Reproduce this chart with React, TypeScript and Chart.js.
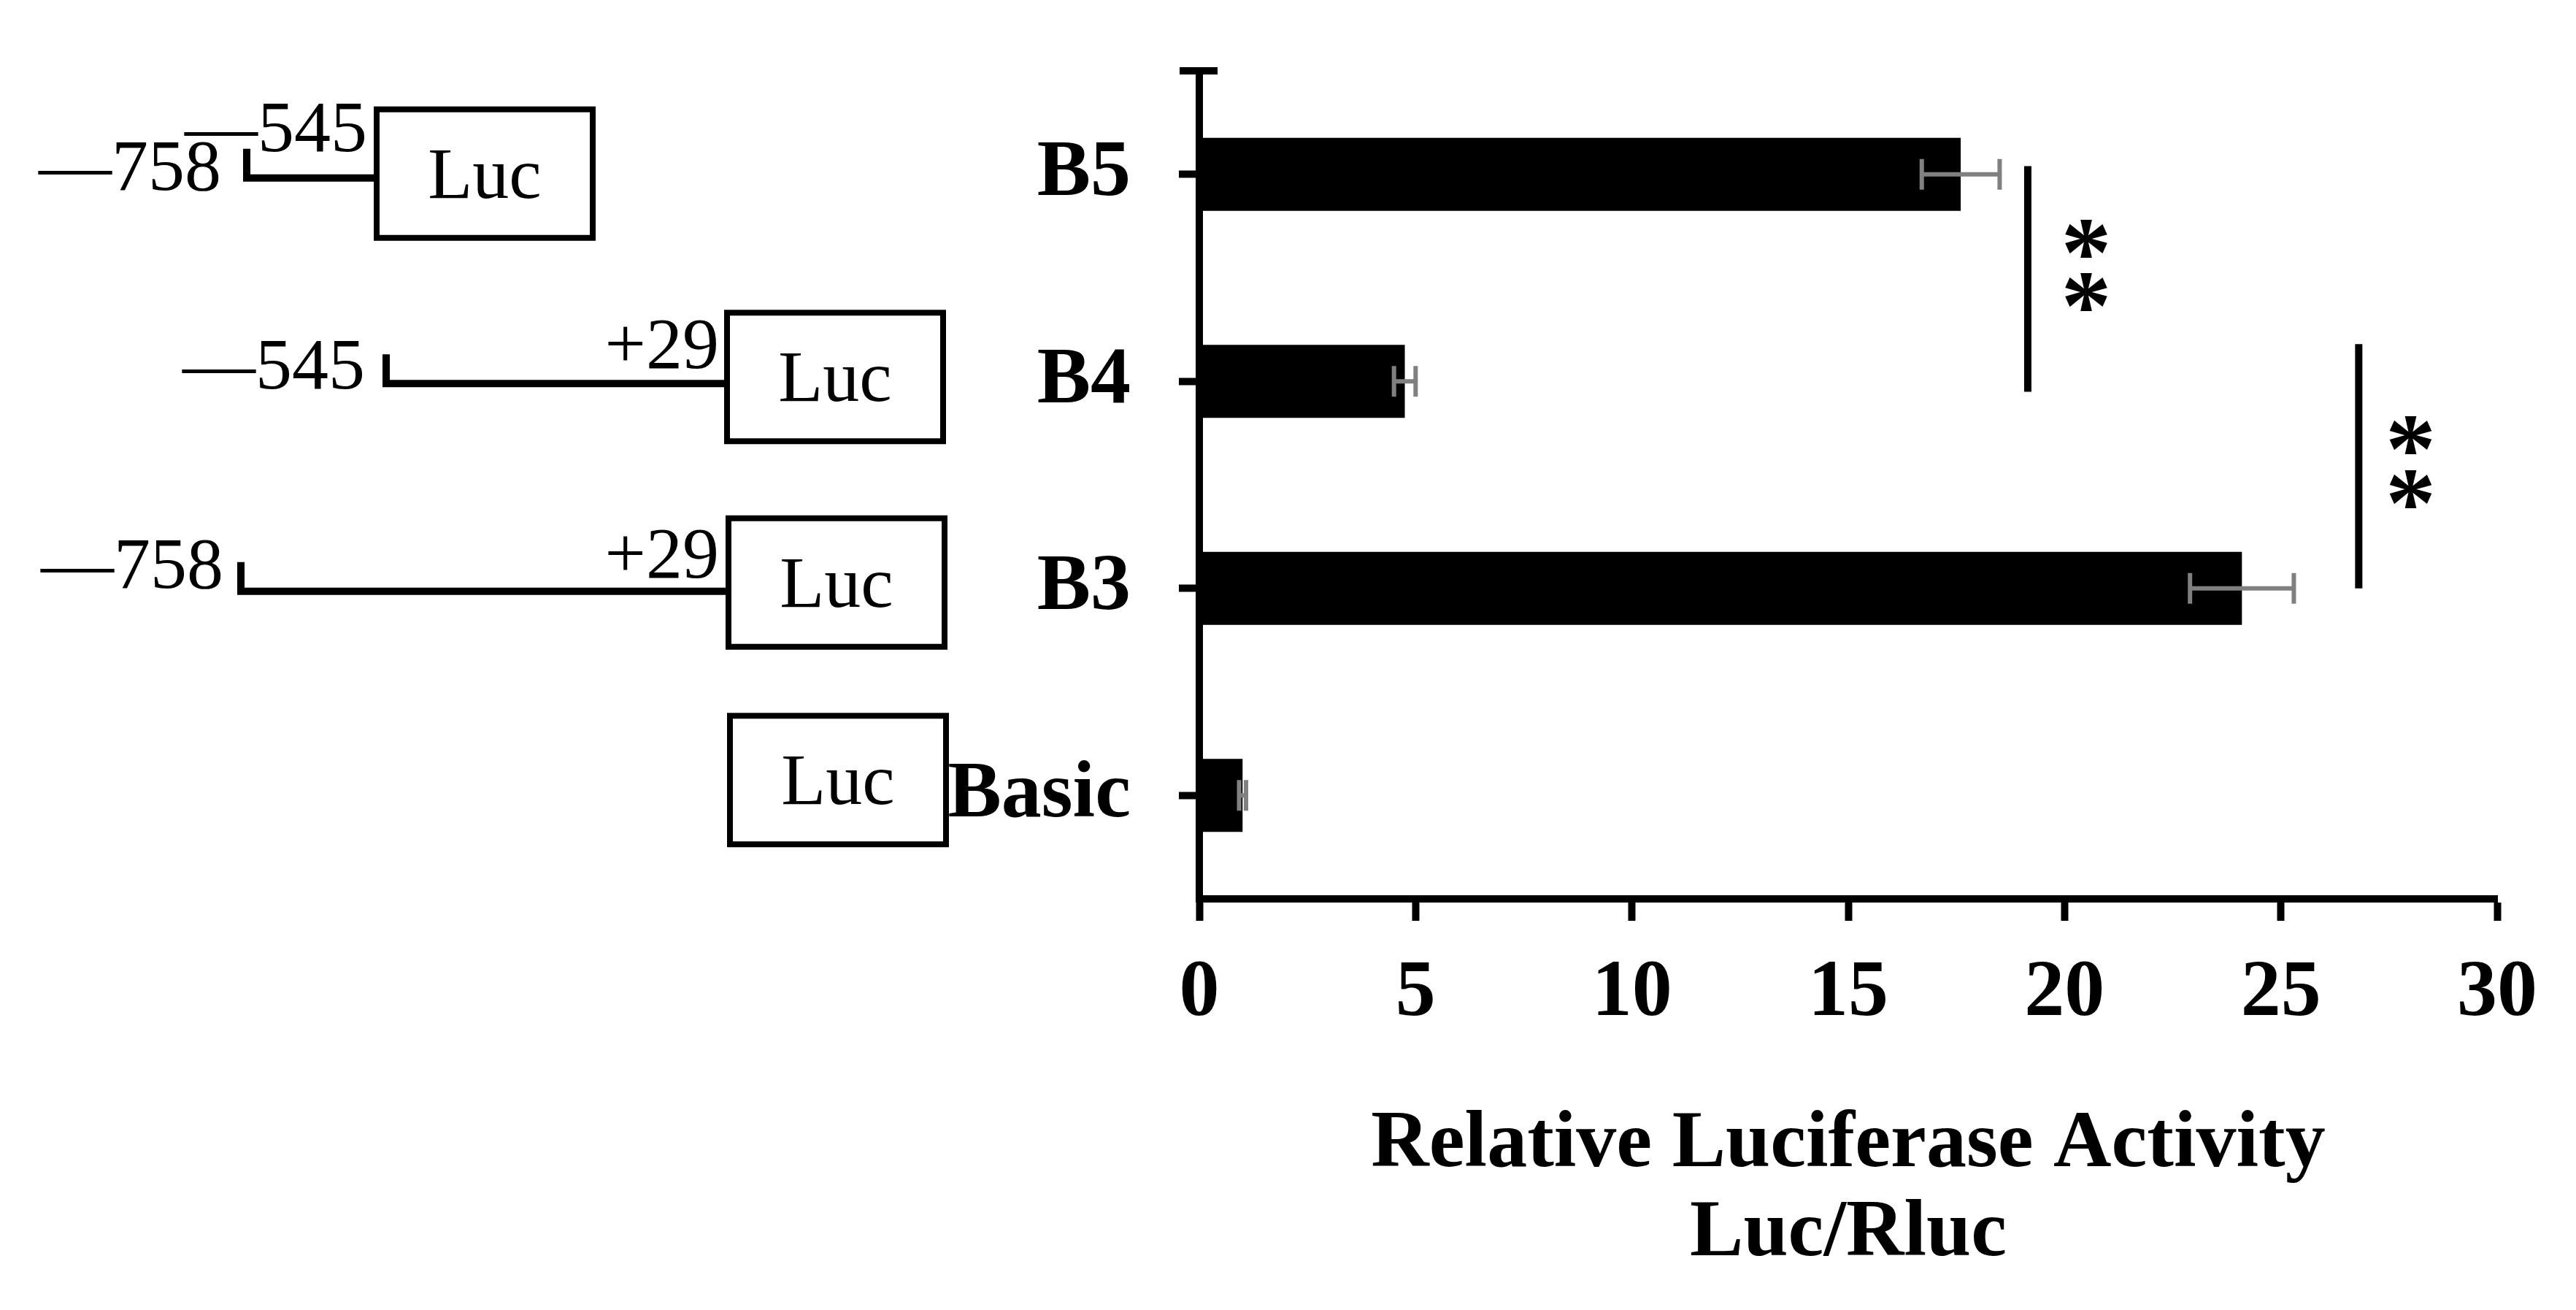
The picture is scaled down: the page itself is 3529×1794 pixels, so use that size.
import React, { useEffect, useRef } from 'react';
import { Chart, registerables } from 'chart.js';

Chart.register(...registerables);

// ---------- data ----------
const categories = ['B5', 'B4', 'B3', 'Basic'];
const relativeActivity = [17.6, 4.75, 24.1, 1.0];
const activityError = [0.9, 0.25, 1.2, 0.08];
const xMin = 0;
const xMax = 30;
const xStep = 5;
const axisTitle = ['Relative Luciferase Activity', 'Luc/Rluc'];

// significance brackets (x in activity units, y in category positions)
const sigX = [19.15, 26.8];
const sigFrom = [-0.04, 0.82];
const sigTo = [1.05, 2.0];
const sigMarkX = [20.5, 28.0];
const sigMarkY = [
  [0.31, 0.57],
  [1.26, 1.52],
];
const sigMark = '*';

// promoter constructs (schematic labels)
const constructStart = ['—758', '—545', '—758', ''];
const constructInner = ['—545', '', '', ''];
const constructEnd = ['', '+29', '+29', ''];
const reporter = 'Luc';

// ---------- styles / layout ----------
const FONT = "'Liberation Serif', 'Times New Roman', serif";
const W = 3529;
const H = 1794;
const BOX_W = 296;
const BOX_H = 176;
const ROWS = [
  { boxX: 516, dy: -1, lineX: 338, lineDy: 6, startRight: 303, startBase: 16, innerRight: 503, innerBase: -37, endRight: 0, endBase: 0 },
  { boxX: 996, dy: -6, lineX: 529, lineDy: 9, startRight: 500, startBase: 7, innerRight: 0, innerBase: 0, endRight: 985, endBase: -21 },
  { boxX: 998, dy: -8, lineX: 330, lineDy: 12, startRight: 306, startBase: -5, innerRight: 0, innerBase: 0, endRight: 985, endBase: -19 },
  { boxX: 1000, dy: -21, lineX: null as number | null, lineDy: 0, startRight: 0, startBase: 0, innerRight: 0, innerBase: 0, endRight: 0, endBase: 0 },
];

const schematicPlugin = {
  id: 'schematic',
  afterDraw(chart: any) {
    const ctx = chart.ctx as CanvasRenderingContext2D;
    const ys = chart.scales.y;
    ctx.save();
    ctx.fillStyle = '#000';
    ctx.strokeStyle = '#000';
    ROWS.forEach((r, i) => {
      const cy = ys.getPixelForValue(i) + r.dy;
      ctx.lineWidth = 8;
      ctx.strokeRect(r.boxX, cy - BOX_H / 2, BOX_W, BOX_H);
      ctx.font = `100px ${FONT}`;
      ctx.textAlign = 'center';
      ctx.textBaseline = 'alphabetic';
      ctx.fillText(reporter, r.boxX + BOX_W / 2, cy + 33);
      if (r.lineX !== null) {
        const ly = cy + r.lineDy;
        ctx.lineWidth = 10;
        ctx.lineCap = 'butt';
        ctx.lineJoin = 'miter';
        ctx.beginPath();
        ctx.moveTo(r.lineX, ly - 40);
        ctx.lineTo(r.lineX, ly);
        ctx.lineTo(r.boxX, ly);
        ctx.stroke();
        ctx.textAlign = 'right';
        if (constructStart[i]) ctx.fillText(constructStart[i], r.startRight, ly + r.startBase);
        if (constructInner[i]) ctx.fillText(constructInner[i], r.innerRight, ly + r.innerBase);
        if (constructEnd[i]) ctx.fillText(constructEnd[i], r.endRight, ly + r.endBase);
      }
    });
    ctx.restore();
  },
};

const errorBarPlugin = {
  id: 'errorBars',
  afterDatasetsDraw(chart: any) {
    const ctx = chart.ctx as CanvasRenderingContext2D;
    const xs = chart.scales.x;
    const meta = chart.getDatasetMeta(0);
    ctx.save();
    ctx.strokeStyle = '#808080';
    ctx.lineWidth = 6;
    meta.data.forEach((bar: any, i: number) => {
      const yc = bar.y;
      const x1 = xs.getPixelForValue(relativeActivity[i] - activityError[i]);
      const x2 = xs.getPixelForValue(relativeActivity[i] + activityError[i]);
      ctx.beginPath();
      ctx.moveTo(x1, yc);
      ctx.lineTo(x2, yc);
      ctx.moveTo(x1, yc - 21);
      ctx.lineTo(x1, yc + 21);
      ctx.moveTo(x2, yc - 21);
      ctx.lineTo(x2, yc + 21);
      ctx.stroke();
    });
    ctx.restore();
  },
};

const annotationPlugin = {
  id: 'annotations',
  afterDraw(chart: any) {
    const ctx = chart.ctx as CanvasRenderingContext2D;
    const xs = chart.scales.x;
    const ys = chart.scales.y;
    const area = chart.chartArea;
    ctx.save();
    ctx.strokeStyle = '#000';
    ctx.fillStyle = '#000';
    // top cap of the y axis
    ctx.lineWidth = 10;
    ctx.beginPath();
    ctx.moveTo(area.left - 27, area.top);
    ctx.lineTo(area.left + 25, area.top);
    ctx.stroke();
    // significance brackets
    sigX.forEach((v, k) => {
      const px = xs.getPixelForValue(v);
      ctx.lineWidth = 10;
      ctx.beginPath();
      ctx.moveTo(px, ys.getPixelForValue(sigFrom[k]));
      ctx.lineTo(px, ys.getPixelForValue(sigTo[k]));
      ctx.stroke();
    });
    // asterisks, sized so the glyph ink is ~58px wide
    ctx.font = `bold 100px ${FONT}`;
    const m0 = ctx.measureText(sigMark);
    const w0 = (m0.actualBoundingBoxRight + m0.actualBoundingBoxLeft) || 40;
    const size = Math.round((100 * 58) / w0);
    ctx.font = `bold ${size}px ${FONT}`;
    const m = ctx.measureText(sigMark);
    const offY = (m.actualBoundingBoxAscent - m.actualBoundingBoxDescent) / 2;
    const offX = (m.actualBoundingBoxRight - m.actualBoundingBoxLeft) / 2;
    ctx.textAlign = 'left';
    ctx.textBaseline = 'alphabetic';
    sigMarkX.forEach((v, k) => {
      const px = xs.getPixelForValue(v);
      sigMarkY[k].forEach((yv) => {
        const py = ys.getPixelForValue(yv);
        ctx.fillText(sigMark, px - offX, py + offY);
      });
    });
    ctx.restore();
  },
};

export default function App() {
  const ref = useRef<HTMLCanvasElement | null>(null);

  useEffect(() => {
    document.body.style.margin = '0';
    document.body.style.overflow = 'hidden';
    const canvas = ref.current;
    if (!canvas) return;
    const chart = new Chart(canvas, {
      type: 'bar',
      data: {
        labels: categories,
        datasets: [
          {
            data: relativeActivity,
            backgroundColor: '#000',
            borderWidth: 0,
            barPercentage: 1,
            categoryPercentage: 0.352,
          },
        ],
      },
      options: {
        indexAxis: 'y',
        responsive: false,
        animation: false,
        devicePixelRatio: 1,
        layout: { padding: { top: 97, right: 108, left: 0, bottom: 0 } },
        plugins: {
          legend: { display: false },
          tooltip: { enabled: false },
        },
        scales: {
          x: {
            type: 'linear',
            min: xMin,
            max: xMax,
            ticks: {
              stepSize: xStep,
              color: '#000',
              padding: 35,
              font: { family: FONT, size: 110, weight: 'bold' },
            },
            grid: {
              drawOnChartArea: false,
              drawTicks: true,
              tickLength: 30,
              tickWidth: 10,
              tickColor: '#000',
            },
            border: { display: true, color: '#000', width: 10 },
            title: {
              display: true,
              text: axisTitle,
              color: '#000',
              font: { family: FONT, size: 110, weight: 'bold', lineHeight: 1.11 },
              padding: { top: 0, bottom: 42 },
            },
            afterFit: (scale: any) => {
              scale.height = 563;
            },
          },
          y: {
            type: 'category',
            offset: true,
            ticks: {
              color: '#000',
              padding: 66,
              font: { family: FONT, size: 110, weight: 'bold' },
            },
            grid: {
              offset: false,
              drawOnChartArea: false,
              drawTicks: true,
              tickLength: 28,
              tickWidth: 10,
              tickColor: '#000',
            },
            border: { display: true, color: '#000', width: 10 },
            afterFit: (scale: any) => {
              scale.width = 1643;
              scale.paddingTop = 0;
              scale.paddingBottom = 0;
            },
          },
        },
      } as any,
      plugins: [errorBarPlugin, annotationPlugin, schematicPlugin],
    });
    return () => chart.destroy();
  }, []);

  return (
    <div style={{ width: W, height: H, background: '#fff' }}>
      <canvas ref={ref} width={W} height={H} style={{ display: 'block', width: W, height: H }} />
    </div>
  );
}
